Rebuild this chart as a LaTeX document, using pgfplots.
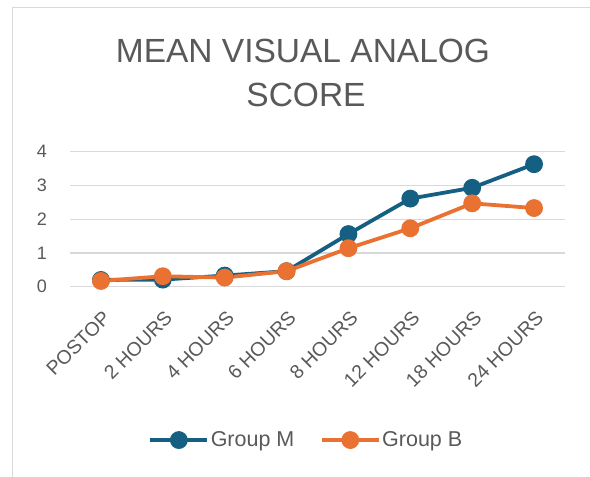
\documentclass[border=0pt]{standalone}
\usepackage{pgfplots}
\pgfplotsset{compat=1.18}
\usepackage{fontspec}
\setmainfont{Liberation Sans}
\definecolor{cM}{HTML}{156082}
\definecolor{cB}{HTML}{E97132}
\definecolor{gridc}{HTML}{D9D9D9}
\definecolor{txt}{HTML}{595959}
\begin{document}
\begin{tikzpicture}[x=1pt,y=1pt]
\path[use as bounding box] (0,0) rectangle (590,477);
\draw[gridc, line width=1.2pt] (12.5,0) -- (12.5,469.5) -- (590,469.5);
\node[anchor=base, text=txt, font=\fontsize{33.5}{40}\selectfont, inner sep=0pt] at (303,414.3) {MEAN VISUAL ANALOG};
\node[anchor=base, text=txt, font=\fontsize{33.5}{40}\selectfont, inner sep=0pt] at (306,370.3) {SCORE};
\begin{axis}[
  at={(70pt,190.3pt)}, anchor=south west,
  scale only axis, width=495pt, height=135pt,
  xmin=-0.5, xmax=7.5, ymin=0, ymax=4,
  clip=false,
  axis line style={draw=none},
  major tick length=0pt,
  ytick={0,1,2,3,4},
  ymajorgrids, major grid style={gridc, line width=1.3pt},
  xtick={0,...,7},
  xticklabels={POSTOP,2 HOURS,4 HOURS,6 HOURS,8 HOURS,12 HOURS,18 HOURS,24 HOURS},
  /pgf/number format/assume math mode=true,
  yticklabel style={font=\fontsize{18}{18}\selectfont, text=txt, inner sep=0pt, anchor=east, xshift=-23pt},
  xticklabel style={yshift=-23pt, xshift=1pt, font=\fontsize{19.5}{19.5}\selectfont, text=txt, rotate=45, anchor=north east, inner sep=0pt},
  legend columns=2,
  legend style={draw=none, fill=none, at={(axis description cs:0.477,-1.136)}, anchor=center,
    font=\fontsize{21.5}{21.5}\selectfont, text=txt,
    /tikz/every even column/.append style={column sep=24pt},
    nodes={inner sep=1.5pt}},
  legend image code/.code={\draw[#1, mark repeat=2, mark phase=2] plot coordinates {(0pt,0pt) (28.5pt,0pt) (57pt,0pt)};},
  every axis plot/.append style={line width=3.8pt, mark=*, mark size=7pt, mark options={solid}},
]
\addplot[color=cM] coordinates {(0,0.20) (1,0.21) (2,0.33) (3,0.46) (4,1.56) (5,2.61) (6,2.93) (7,3.63)};
\addlegendentry{Group M}
\addplot[color=cB] coordinates {(0,0.17) (1,0.31) (2,0.27) (3,0.46) (4,1.14) (5,1.73) (6,2.47) (7,2.33)};
\addlegendentry{Group B}
\end{axis}
\end{tikzpicture}
\end{document}
